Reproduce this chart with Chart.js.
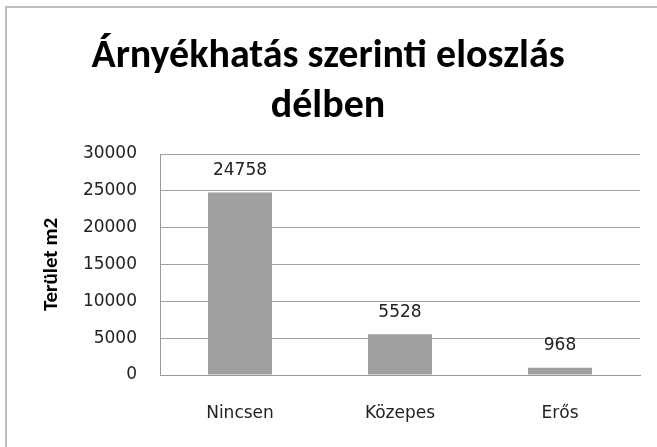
<!DOCTYPE html>
<html>
<head>
<meta charset="utf-8">
<script src="https://cdn.jsdelivr.net/npm/chart.js@4/dist/chart.umd.min.js"></script>
<style>
  html, body { margin: 0; padding: 0; background: #fff; }
  #wrap { position: relative; width: 657px; height: 447px; overflow: hidden; }
  #frame { position: absolute; left: 5px; top: 6px; width: 700px; height: 500px; border: 2px solid #bdbdbd; }
  #chart { position: absolute; left: 0; top: 0; }
</style>
</head>
<body>
<div id="wrap">
  <div id="frame"></div>
  <canvas id="chart" width="657" height="447"></canvas>
</div>
<script>
'use strict'

// chart data
const categories = ['Nincsen', 'Közepes', 'Erős'];
const areaValues = [24758, 5528, 968];
const yTicks = [0, 5000, 10000, 15000, 20000, 25000, 30000];

const titleLines = ['Árnyékhatás szerinti eloszlás', 'délben'];
const yTitle = 'Terület m2';

const axisFont = { family: "'DejaVu Sans', Verdana, sans-serif", size: 17 };

// value labels above each bar
const barLabels = {
    id: 'barLabels',
    afterDatasetsDraw(chart) {
        const ctx = chart.ctx;
        const meta = chart.getDatasetMeta(0);
        ctx.save();
        ctx.font = "17px 'DejaVu Sans', Verdana, sans-serif";
        ctx.fillStyle = '#222';
        ctx.textAlign = 'center';
        ctx.textBaseline = 'middle';
        meta.data.forEach((bar, i) => {
            ctx.fillText(String(areaValues[i]), bar.x, bar.y - 22);
        });
        ctx.restore();
    }
};

new Chart(document.getElementById('chart'), {
    type: 'bar',
    data: {
        labels: categories,
        datasets: [{
            data: areaValues,
            backgroundColor: '#a0a0a0',
            borderWidth: 0,
            barPercentage: 0.4,
            categoryPercentage: 1
        }]
    },
    options: {
        responsive: false,
        animation: false,
        layout: { padding: { left: 8, right: 9, top: 0, bottom: 0 } },
        plugins: {
            legend: { display: false },
            tooltip: { enabled: false },
            title: {
                display: true,
                text: titleLines,
                color: '#000',
                font: { family: "Carlito, 'Liberation Sans', Arial, sans-serif", size: 40, weight: 'bold', lineHeight: 1.25 },
                padding: { top: 32, bottom: 22 }
            }
        },
        scales: {
            x: {
                grid: { display: false, drawTicks: false, color: 'rgba(0,0,0,0)' },
                border: { display: true, color: '#9a9a9a', width: 1 },
                ticks: { color: '#222', font: axisFont, padding: 28 },
                afterFit(scale) { scale.height = 72; }
            },
            y: {
                min: 0,
                max: 30000,
                afterBuildTicks(scale) { scale.ticks = yTicks.map(v => ({ value: v })); },
                grid: { color: '#a0a0a0', lineWidth: 1, drawTicks: false },
                border: { display: true, color: '#9a9a9a', width: 1 },
                ticks: {
                    color: '#222',
                    font: axisFont,
                    padding: 23,
                    callback: (v) => String(v)
                },
                title: {
                    display: true,
                    text: yTitle,
                    color: '#000',
                    font: { family: "Carlito, 'Liberation Sans', Arial, sans-serif", size: 21, weight: 'bold' },
                    padding: { top: 31, bottom: 0 }
                },
                afterFit(scale) { scale.width = 152; }
            },
            // empty right-hand spacer so the plot ends where the reference does
            yRight: {
                position: 'right',
                min: 0,
                max: 30000,
                grid: { display: false, drawTicks: false },
                border: { display: false },
                ticks: { display: false },
                afterFit(scale) { scale.width = 8; }
            }
        }
    },
    plugins: [barLabels]
});
</script>
</body>
</html>
